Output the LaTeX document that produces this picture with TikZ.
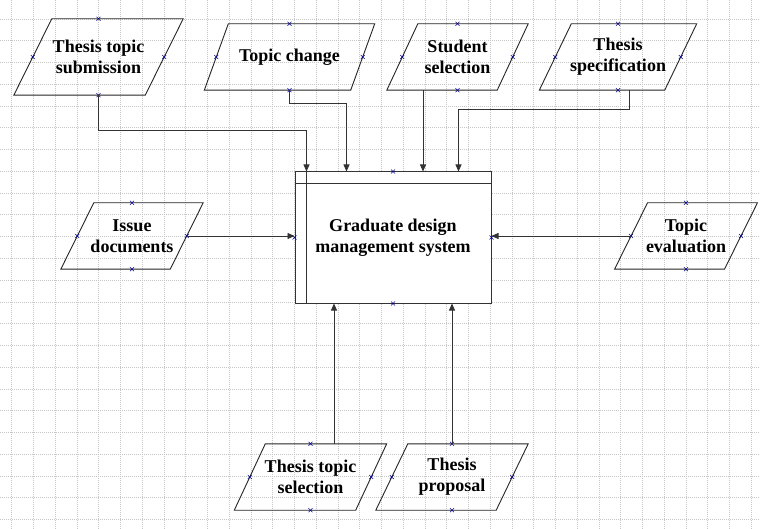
\documentclass[tikz,border=0pt]{standalone}
\usepackage{fontspec}
\setmainfont{Liberation Serif}
\usetikzlibrary{arrows.meta}
\tikzset{
  ptext/.style={draw=none, inner sep=0pt, align=center, font=\bfseries\fontsize{18}{21}\selectfont},
  pline/.style={draw=black!85, line width=0.9pt},
  arr/.style={draw=black!80, line width=0.8pt, -{Triangle[length=7pt,width=6pt]}},
  gridline/.style={draw=gray!45, line width=0.5pt, dash pattern=on 1pt off 1pt},
  xm/.pic={\draw[blue!55!black, line width=0.5pt] (-2,-2)--(2,2) (-2,2)--(2,-2);}
}
% name, x, y, width, height, half slant, text
\newcommand\parabox[7]{%
  \node[ptext, minimum width=#4, minimum height=#5] (#1) at (#2,#3) {#7};
  \draw[pline] ([xshift=-#6]#1.south west) -- ([xshift=-#6]#1.south east)
     -- ([xshift=#6]#1.north east) -- ([xshift=#6]#1.north west) -- cycle;
  \pic at (#1.north) {xm}; \pic at (#1.south) {xm};
  \pic at (#1.west) {xm}; \pic at (#1.east) {xm};
}
\begin{document}
\begin{tikzpicture}[x=1pt,y=-1pt]
\useasboundingbox (0,0) rectangle (760,529);
\fill[white] (0,0) rectangle (760,529);
% grid
\foreach \i in {0,...,34} {\draw[gridline] ({11.5+21.75*\i},0) -- ({11.5+21.75*\i},529);}
\foreach \j in {0,...,23} {\draw[gridline] (0,{19+21.75*\j}) -- (760,{19+21.75*\j});}

% main system box
\node[draw=black!80, fill=white, line width=1pt, minimum width=196, minimum height=131, align=center,
      font=\bfseries\fontsize{18}{21}\selectfont] (sys) at (393,237.5) {Graduate design\\management system};
\draw[draw=black!80, line width=0.9pt] ([xshift=12]sys.north west) -- ([xshift=12]sys.south west);
\draw[draw=black!80, line width=0.9pt] ([yshift=-12]sys.north west) -- ([yshift=-12]sys.north east);
\pic at (sys.north) {xm}; \pic at (sys.south) {xm};
\pic at (sys.west) {xm}; \pic at (sys.east) {xm};

% input parallelograms
\parabox{sub}{98.5}{57}{131}{76}{19}{Thesis topic\\submission}
\parabox{chg}{289.5}{57}{146}{66}{12}{Topic change}
\parabox{stu}{457.5}{57}{110}{66}{15.5}{Student\\selection}
\parabox{spe}{618}{57}{125}{66}{16}{Thesis\\specification}
\parabox{iss}{132}{236}{109}{66}{16.5}{Issue\\documents}
\parabox{eva}{686}{236}{109.5}{66}{16.5}{Topic\\evaluation}
\parabox{sel}{310.5}{477}{121}{66}{15.5}{Thesis topic\\selection}
\parabox{pro}{452}{477}{120}{66}{16}{Thesis\\proposal}

% connectors
\draw[arr] (sub.south) -- ++(0,35) -| ([xshift=12]sys.north west);
\draw[arr] (chg.south) -- ++(0,13) -| ([xshift=52]sys.north west);
\draw[arr] ([xshift=-34.5]stu.south) -- ([xshift=-34.5]stu.south |- sys.north);
\draw[arr] ([xshift=11]spe.south) -- ++(0,19) -| ([xshift=164]sys.north west);
\draw[arr] (iss.east) -- (iss.east -| sys.west);
\draw[arr] (eva.west) -- (eva.west -| sys.east);
\draw[arr] ([xshift=23.5]sel.north) -- ([xshift=23.5]sel.north |- sys.south);
\draw[arr] (pro.north) -- (pro.north |- sys.south);
\end{tikzpicture}
\end{document}
